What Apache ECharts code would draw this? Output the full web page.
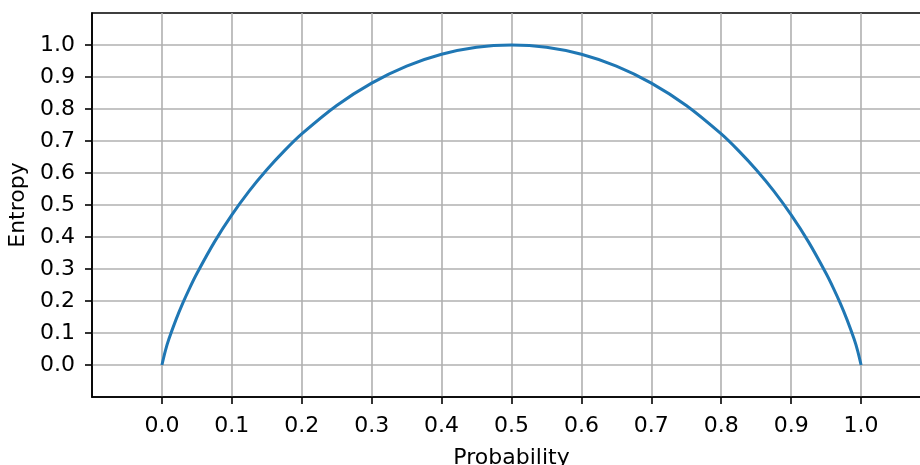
<!DOCTYPE html>
<html>
<head>
<meta charset="utf-8">
<script src="https://cdn.jsdelivr.net/npm/echarts@6/dist/echarts.min.js"></script>
<style>html,body{margin:0;padding:0;background:#fff}#c{width:920px;height:465px}</style>
</head>
<body>
<div id="c"></div>
<script>
const probX = [0, 0.005, 0.01, 0.02, 0.03, 0.04, 0.05, 0.075, 0.1, 0.125, 0.15, 0.175, 0.2, 0.25, 0.3, 0.35, 0.4, 0.45, 0.5,
  0.55, 0.6, 0.65, 0.7, 0.75, 0.8, 0.825, 0.85, 0.875, 0.9, 0.925, 0.95, 0.96, 0.97, 0.98, 0.99, 0.995, 1.0];
const entropyY = [0, 0.045, 0.081, 0.141, 0.194, 0.242, 0.286, 0.384, 0.469, 0.544, 0.610, 0.669, 0.722, 0.811, 0.881, 0.934, 0.971, 0.993, 1.0,
  0.993, 0.971, 0.934, 0.881, 0.811, 0.722, 0.669, 0.610, 0.544, 0.469, 0.384, 0.286, 0.242, 0.194, 0.141, 0.081, 0.045, 0];
const xTicks = [0, 0.1, 0.2, 0.3, 0.4, 0.5, 0.6, 0.7, 0.8, 0.9, 1.0];
const yTicks = [0, 0.1, 0.2, 0.3, 0.4, 0.5, 0.6, 0.7, 0.8, 0.9, 1.0];

const font = 'DejaVu Sans';
const chart = echarts.init(document.getElementById('c'), null, {renderer: 'canvas'});
chart.setOption({
  animation: false,
  grid: {left: 92, top: 13, width: 839, bottom: 68, outerBoundsMode: 'none', containLabel: false,
    show: true, borderColor: '#000', borderWidth: 1.6, backgroundColor: 'transparent'},
  xAxis: {
    type: 'value', min: -0.1, max: 1.1, interval: 0.1,
    name: 'Probability', nameLocation: 'middle', nameGap: 50,
    nameTextStyle: {fontFamily: font, fontSize: 22, color: '#000'},
    axisLine: {show: true, onZero: false, lineStyle: {color: '#000', width: 1.6}},
    axisTick: {show: true, length: 7, lineStyle: {color: '#000', width: 1.6}, customValues: xTicks},
    axisLabel: {fontFamily: font, fontSize: 22, color: '#000', margin: 18, customValues: xTicks,
      formatter: v => v.toFixed(1)},
    splitLine: {show: true, lineStyle: {color: '#b0b0b0', width: 1.6}}
  },
  yAxis: {
    type: 'value', min: -0.1, max: 1.1, interval: 0.1,
    name: 'Entropy', nameLocation: 'middle', nameGap: 62,
    nameTextStyle: {fontFamily: font, fontSize: 22, color: '#000'},
    axisLine: {show: true, onZero: false, lineStyle: {color: '#000', width: 1.6}},
    axisTick: {show: true, length: 7, lineStyle: {color: '#000', width: 1.6}, customValues: yTicks},
    axisLabel: {fontFamily: font, fontSize: 22, color: '#000', margin: 17, customValues: yTicks,
      formatter: v => v.toFixed(1)},
    splitLine: {show: true, lineStyle: {color: '#b0b0b0', width: 1.6}}
  },
  series: [{
    type: 'line',
    data: probX.map((x, i) => [x, entropyY[i]]),
    showSymbol: false,
    smooth: 0.3,
    lineStyle: {color: '#1f77b4', width: 3},
    z: 5
  }]
});
</script>
</body>
</html>
